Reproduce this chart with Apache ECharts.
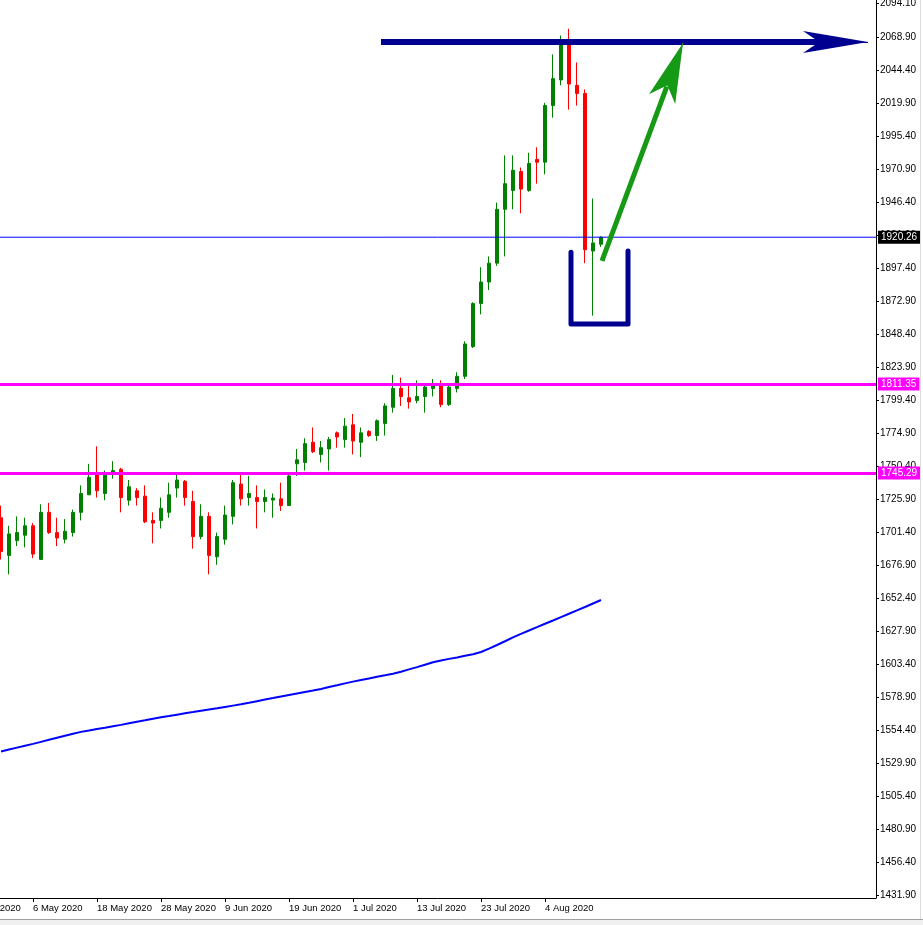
<!DOCTYPE html>
<html><head><meta charset="utf-8">
<script src="https://cdn.jsdelivr.net/npm/echarts@6/dist/echarts.min.js"></script>
<style>html,body{margin:0;padding:0;background:#fff}#c{width:923px;height:925px}</style>
</head><body><div id="c"></div>
<script>
// Daily bars (XAUUSD), one per trading day
const dates = ['2020-04-30','2020-05-01','2020-05-04','2020-05-05','2020-05-06','2020-05-07','2020-05-08',
'2020-05-11','2020-05-12','2020-05-13','2020-05-14','2020-05-15','2020-05-18','2020-05-19','2020-05-20','2020-05-21','2020-05-22',
'2020-05-25','2020-05-26','2020-05-27','2020-05-28','2020-05-29','2020-06-01','2020-06-02','2020-06-03','2020-06-04','2020-06-05',
'2020-06-08','2020-06-09','2020-06-10','2020-06-11','2020-06-12','2020-06-15','2020-06-16','2020-06-17','2020-06-18','2020-06-19',
'2020-06-22','2020-06-23','2020-06-24','2020-06-25','2020-06-26','2020-06-29','2020-06-30','2020-07-01','2020-07-02','2020-07-03',
'2020-07-06','2020-07-07','2020-07-08','2020-07-09','2020-07-10','2020-07-13','2020-07-14','2020-07-15','2020-07-16','2020-07-17',
'2020-07-20','2020-07-21','2020-07-22','2020-07-23','2020-07-24','2020-07-27','2020-07-28','2020-07-29','2020-07-30','2020-07-31',
'2020-08-03','2020-08-04','2020-08-05','2020-08-06','2020-08-07','2020-08-10','2020-08-11','2020-08-12','2020-08-13'];
const opens  = [1712,1684,1695,1699,1706,1681,1716,1701,1696,1701,1716,1729,1744,1730,1745,1748,1725,1732,1728,1710,1710,1716,1734,1739,1724,1698,1713,1683,1696,1713,1737,1727,1727,1724,1725.1,1726,1721,1752,1753,1768,1759,1763,1775,1770,1781,1768,1776,1773,1782,1794,1808,1801,1799,1802,1808,1810,1796,1808,1817,1839,1871,1887,1901,1941,1955,1969,1955,1978,1976,2018,2037,2063,2033,2027,1910,1915];
const highs  = [1721,1706,1713,1712,1708,1722,1723,1712,1711,1718,1736,1752,1765,1747,1754,1749,1740,1734,1736,1716,1727,1738,1744,1740,1732,1722,1716,1701,1721,1740,1744,1743,1736,1733,1730,1738,1744,1763,1771,1779,1769,1772,1776,1786,1789,1779,1777,1785,1797,1818,1816,1810,1814,1811,1815,1814,1810,1820,1843,1872,1898,1906,1946,1981,1981,1972,1983,1987,2020,2056,2070,2075,2050,2030,1949,1921];
const lows   = [1681,1670,1691,1690,1682,1681,1700,1691,1693,1698,1710,1729,1727,1725,1741,1716,1721,1721,1708,1693,1704,1712,1727,1721,1689,1696,1670,1677,1692,1707,1721,1721,1704,1716,1712,1717,1721,1743,1747,1760,1753,1747,1764,1764,1759,1757,1772,1769,1773,1790,1795,1793,1797,1790,1802,1794,1795,1805,1815,1838,1863,1881,1899,1906,1941,1938,1954,1960,1967,2009,2033,2015,2018,1901,1862,1913];
const closes = [1687,1700,1701,1706,1685,1716,1701,1697,1702,1716,1730,1742,1732,1744,1747,1727,1735,1727,1709,1708,1719,1729,1740,1727,1698,1713,1684,1698,1714,1738,1726,1730,1724,1727,1726.6,1721,1743,1755,1767,1761,1764,1770,1772,1780,1769,1775,1773,1784,1795,1808,1802,1798,1802,1809,1810,1796,1809,1817,1841,1871,1887,1901,1941,1960,1970,1956,1975,1976,2018,2038,2063,2034,2027,1911,1916,1920.26];
// Moving average
const ma200 = [1538.5,1539.9,1541.3,1542.7,1544.1,1545.6,1547.1,1548.6,1550.1,1551.6,1553.0,1554.0,1555.1,1556.1,1557.2,1558.2,1559.4,1560.5,1561.6,1562.8,
1563.9,1564.8,1565.8,1566.8,1567.7,1568.7,1569.6,1570.5,1571.5,1572.5,1573.5,1574.6,1575.8,1577.0,1578.1,1579.3,1580.4,1581.5,1582.6,1583.7,
1584.9,1586.3,1587.6,1589.0,1590.3,1591.5,1592.7,1593.9,1595.0,1596.2,1597.6,1599.4,1601.1,1602.9,1604.7,1606.0,1607.2,1608.3,1609.5,1610.7,
1612.3,1614.8,1617.5,1620.3,1623.2,1625.8,1628.3,1630.8,1633.3,1635.7,1638.2,1640.7,1643.2,1645.7,1648.3,1650.9];
// Axis tick labels (bar positions, texts) and price ticks
const xTickIdx  = [-4,4,12,20,28,36,44,52,60,68];
const xTickText = ['24 Apr 2020','6 May 2020','18 May 2020','28 May 2020','9 Jun 2020','19 Jun 2020','1 Jul 2020','13 Jul 2020','23 Jul 2020','4 Aug 2020'];
const yTicks = [2094.10,2068.90,2044.40,2019.90,1995.40,1970.90,1946.40,1921.90,1897.40,1872.90,1848.40,1823.90,1799.40,1774.90,1750.40,1725.90,1701.40,1676.90,1652.40,1627.90,1603.40,1578.90,1554.40,1529.90,1505.40,1480.90,1456.40,1431.90];
// Horizontal levels and drawn annotations (in bar index / price units): start, arrow notch, arrow tip
const bidPrice = 1920.26;
const levels = [1811.35, 1745.29];
const trendLine = [[47.5, 2065.2], [102.28, 2065.2], [108.375, 2065.2]];
const upArrow = [[75.125, 1902.6], [83.225, 2032.1], [85.25, 2064.45]];
const bracket = [[71.25, 1909.0], [71.25, 1855.8], [78.375, 1855.8], [78.375, 1910.0]];

const FONT = 'Liberation Sans';
const NAVY = '#000090';
const GREEN_ARROW = '#169a16';
const X_MIN = -5.125, X_MAX = 109.375;
const chart = echarts.init(document.getElementById('c'), null, {renderer: 'canvas'});
const candleData = dates.map((d, i) => [i, opens[i], closes[i], lows[i], highs[i]]);

function arrowLine(pts, color, width, headSize) {
  return {
    type: 'line', data: [], z: 6,
    markLine: {silent: true, animation: false, symbol: ['none', 'none'],
      lineStyle: {color: color, width: width, type: 'solid', cap: 'butt'},
      label: {show: false},
      data: [
        [{coord: pts[0]}, {coord: pts[1]}],
        [{coord: pts[1], lineStyle: {color: color, width: 1}}, {coord: pts[2], symbol: 'arrow', symbolSize: headSize}]
      ]}
  };
}

chart.setOption({
  animation: false,
  backgroundColor: '#ffffff',
  textStyle: {fontFamily: FONT},
  grid: {left: -40, right: 47, top: 0, bottom: 27, outerBoundsMode: 'none', containLabel: false},
  xAxis: {
    type: 'value', min: X_MIN, max: X_MAX,
    axisLine: {show: true, onZero: false, lineStyle: {color: '#000', width: 1}},
    axisTick: {show: true, customValues: xTickIdx, length: 4, lineStyle: {color: '#000'}},
    axisLabel: {customValues: xTickIdx, formatter: v => xTickText[xTickIdx.indexOf(v)] || '',
      align: 'left', margin: 5, fontSize: 9.5, color: '#000', fontFamily: FONT},
    splitLine: {show: false}
  },
  yAxis: {
    type: 'value', position: 'right', min: 1429.67, max: 2096.37,
    axisLine: {show: true, onZero: false, lineStyle: {color: '#000', width: 1}},
    axisTick: {show: true, customValues: yTicks, length: 3, lineStyle: {color: '#000'}},
    axisLabel: {customValues: yTicks, formatter: v => v.toFixed(2), margin: 4, fontSize: 10, color: '#000', fontFamily: FONT},
    splitLine: {show: false}
  },
  graphic: [
    {type: 'rect', shape: {x: 0, y: 920, width: 923, height: 5}, style: {fill: '#f0f0f0'}, z: 100},
    {type: 'line', shape: {x1: 0, y1: 919.5, x2: 923, y2: 919.5}, style: {stroke: '#a0a0a0', lineWidth: 1}, z: 100},
    {type: 'line', shape: {x1: 920.5, y1: 0, x2: 920.5, y2: 919}, style: {stroke: '#dcdcdc', lineWidth: 1}, z: 100}
  ],
  series: [
    {
      type: 'candlestick', data: candleData, barWidth: 4, z: 2,
      itemStyle: {color: '#008000', color0: '#ff0000', borderColor: '#008000', borderColor0: '#ff0000', borderWidth: 1},
      emphasis: {disabled: true}
    },
    {
      type: 'line', data: ma200.map((v, i) => [i, v]), symbol: 'none', showSymbol: false, z: 3,
      lineStyle: {color: '#0000ff', width: 2}, emphasis: {disabled: true}
    },
    {
      // current bid line across the whole plot, with its price box on the axis
      type: 'line', data: [[X_MIN, bidPrice], [X_MAX, bidPrice]], symbol: 'none', showSymbol: false, z: 4,
      lineStyle: {color: '#0000ff', width: 1}, emphasis: {disabled: true}, clip: false,
      endLabel: {show: true, distance: 2, formatter: () => bidPrice.toFixed(2), color: '#fff',
        backgroundColor: '#000', padding: [2, 3, 1, 3], fontSize: 10, fontFamily: FONT}
    },
    {
      type: 'line', data: [], z: 4,
      markLine: {silent: true, symbol: ['none', 'none'], animation: false,
        lineStyle: {color: '#ff00ff', width: 3, type: 'solid'},
        label: {show: true, position: 'end', distance: 2, formatter: p => Number(p.value).toFixed(2), color: '#fff',
          backgroundColor: '#ff00ff', padding: [2, 3, 1, 3], fontSize: 10, fontFamily: FONT},
        data: levels.map(v => ({yAxis: v}))}
    },
    {
      type: 'line', data: bracket, symbol: 'none', showSymbol: false, z: 6,
      lineStyle: {color: NAVY, width: 5, cap: 'round', join: 'round'}, emphasis: {disabled: true}
    },
    arrowLine(trendLine, NAVY, 6, [16.5, 65]),
    arrowLine(upArrow, GREEN_ARROW, 5, [21, 60])
  ]
});
</script></body></html>
